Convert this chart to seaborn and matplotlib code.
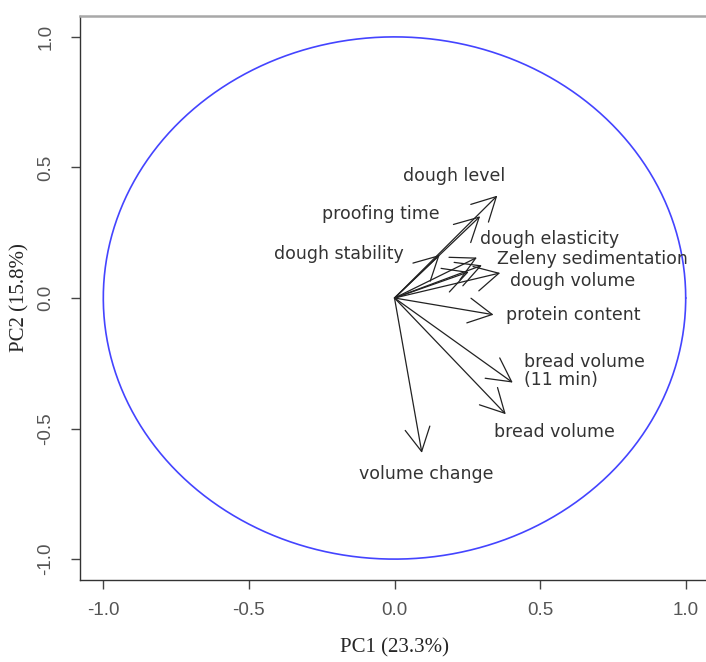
import numpy as np
import pandas as pd
import matplotlib
matplotlib.use('Agg')
import matplotlib.pyplot as plt
import seaborn as sns

# loadings (PC1, PC2)
variables = ['dough level', 'proofing time', 'dough stability', 'dough elasticity',
             'Zeleny sedimentation', 'dough volume', '', 'protein content',
             'bread volume\n(11 min)', 'bread volume', 'volume change']
pc1 = [0.353, 0.294, 0.155, 0.283, 0.300, 0.363, 0.255, 0.340, 0.406, 0.382, 0.094]
pc2 = [0.392, 0.313, 0.165, 0.155, 0.125, 0.096, 0.100, -0.064, -0.324, -0.445, -0.593]

pc1_label = 'PC1 (23.3%)'
pc2_label = 'PC2 (15.8%)'
ticks = [-1.0, -0.5, 0.0, 0.5, 1.0]

# where each label sits (layout only)
label_pos = [(0.206, 0.467, 'center'), (0.154, 0.322, 'right'), (0.031, 0.169, 'right'),
             (0.295, 0.226, 'left'), (0.353, 0.149, 'left'), (0.398, 0.065, 'left'),
             (0.0, 0.0, 'left'), (0.384, -0.065, 'left'), (0.443, -0.28, 'left'),
             (0.343, -0.513, 'left'), (0.110, -0.674, 'center')]

df = pd.DataFrame({'var': variables, 'PC1': pc1, 'PC2': pc2})

sns.set_style('white')
fig = plt.figure(figsize=(7.06, 6.62), dpi=100)
ax = fig.add_axes([80 / 706, 82 / 662, 629 / 706, 564 / 662])

# correlation circle
t = np.linspace(0, 2 * np.pi, 400)
circle = pd.DataFrame({'x': np.cos(t), 'y': np.sin(t)})
sns.lineplot(data=circle, x='x', y='y', sort=False, estimator=None,
             color='#4444ff', lw=1.2, ax=ax)

for _, r in df.iterrows():
    ax.annotate('', xy=(r['PC1'], r['PC2']), xytext=(0, 0),
                arrowprops=dict(arrowstyle='->,head_length=1.7,head_width=0.9',
                                mutation_scale=10, color='#222222', lw=0.9,
                                shrinkA=0, shrinkB=0))

for name, (lx, ly, ha) in zip(variables, label_pos):
    if name:
        ax.text(lx, ly, name, ha=ha, va='center', fontsize=12.5, color='#333333',
                family='DejaVu Sans', linespacing=1.05)

ax.set_xlim(-1.08, 1.08)
ax.set_ylim(-1.08, 1.08)
ax.set_xticks(ticks)
ax.set_yticks(ticks)
ax.set_xticklabels([f'{v:.1f}' for v in ticks], family='Liberation Sans', fontsize=13.5, color='#555555')
ax.set_yticklabels([f'{v:.1f}' for v in ticks], family='Liberation Sans', fontsize=13.5,
                   color='#555555', rotation=90, va='center')
ax.tick_params(axis='both', direction='out', length=6.5, width=1, color='#444444',
               bottom=True, left=True)
ax.tick_params(axis='x', pad=9.5)
ax.tick_params(axis='y', pad=12)
ax.set_xlabel(pc1_label, family='Liberation Serif', fontsize=15, labelpad=14)
ax.set_ylabel(pc2_label, family='Liberation Serif', fontsize=15, labelpad=5.5)

for s in ['left', 'bottom']:
    ax.spines[s].set_color('#333333')
    ax.spines[s].set_linewidth(1)
ax.spines['top'].set_color('#a8a8a8')
ax.spines['top'].set_linewidth(1.8)
ax.spines['right'].set_visible(False)

fig.savefig('out.png', dpi=100)
